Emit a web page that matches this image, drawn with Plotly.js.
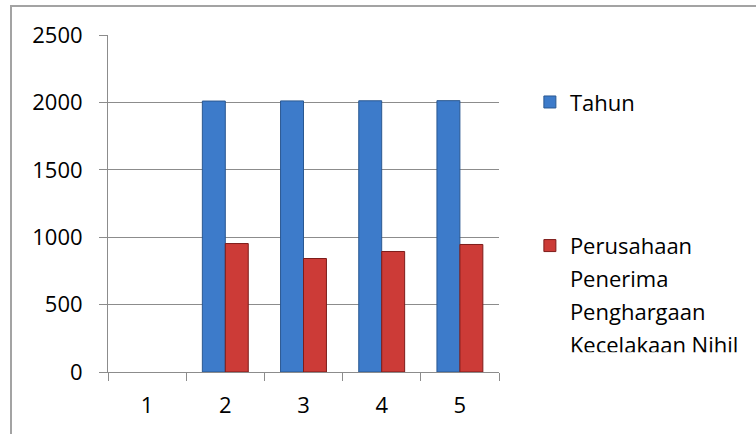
<!DOCTYPE html>
<html>
<head>
<meta charset="utf-8">
<script src="https://cdn.plot.ly/plotly-3.0.1.min.js"></script>
<style>
  html, body { margin: 0; padding: 0; background: #fff; }
  #wrap { position: relative; width: 756px; height: 434px; overflow: hidden; }
  #chart { position: absolute; left: 0; top: 0; width: 756px; height: 434px; }
  #frame { position: absolute; left: 10px; top: 5px; width: 760px; height: 460px;
           border-left: 2px solid #a3a3a3; border-top: 2px solid #a3a3a3; pointer-events: none; }
</style>
</head>
<body>
<div id="wrap">
  <div id="chart"></div>
  <div id="frame"></div>
</div>
<script>
const categories = ['1', '2', '3', '4', '5'];
const tahunValues = [null, 2010, 2011, 2012, 2013];
const perusahaanValues = [null, 953, 842, 894, 946];
const seriesNames = ['Tahun', 'Perusahaan<br>Penerima<br>Penghargaan<br>Kecelakaan Nihil'];
const yTicks = [0, 500, 1000, 1500, 2000, 2500];

const FONT = 'Open Sans, Lato, sans-serif';
const GRID = '#8c8c8c';

const traces = [
  {
    type: 'bar', x: categories, y: tahunValues, name: seriesNames[0],
    legendgroup: 'a',
    marker: { color: '#3d7bca', line: { color: '#2a5891', width: 1 } },
    hoverinfo: 'x+y'
  },
  {
    type: 'bar', x: categories, y: perusahaanValues, name: seriesNames[1],
    legendgroup: 'b',
    marker: { color: '#cc3b37', line: { color: '#7d1c1a', width: 1 } },
    hoverinfo: 'x+y'
  }
];

const layout = {
  width: 756, height: 434,
  margin: { l: 108, r: 255, t: 35, b: 62 },
  paper_bgcolor: '#ffffff', plot_bgcolor: '#ffffff',
  font: { family: FONT, size: 22, color: '#000000' },
  barmode: 'group', bargap: 0.413, bargroupgap: 0,
  showlegend: true,
  legend: {
    x: 1.079, xanchor: 'left', y: 0.863, yanchor: 'top',
    traceorder: 'grouped', tracegroupgap: 112, valign: 'top',
    font: { family: FONT, size: 22, color: '#000' },
    bgcolor: 'rgba(0,0,0,0)'
  },
  xaxis: {
    type: 'category', categoryorder: 'array', categoryarray: categories,
    showline: true, linecolor: GRID, linewidth: 1,
    ticks: 'outside', tickson: 'boundaries', ticklen: 8, tickcolor: GRID, tickwidth: 1,
    ticklabelstandoff: 14,
    showgrid: false, zeroline: false,
    tickfont: { family: FONT, size: 22, color: '#000' }
  },
  yaxis: {
    range: [0, 2500], tickvals: yTicks, ticktext: yTicks.map(String),
    showline: true, linecolor: GRID, linewidth: 1,
    ticks: 'outside', ticklen: 8, tickcolor: GRID, tickwidth: 1,
    ticklabelstandoff: 12,
    showgrid: true, gridcolor: GRID, gridwidth: 1.3,
    zeroline: false,
    tickfont: { family: FONT, size: 22, color: '#000' }
  }
};

Plotly.newPlot('chart', traces, layout, { displayModeBar: false }).then(function (gd) {
  // widen the line spacing of the multi-line legend label to match the reference (~33px)
  const ratio = 33 / (22 * 1.3);
  gd.querySelectorAll('.legend text.legendtext tspan.line').forEach(function (t) {
    const dy = t.getAttribute('dy');
    if (dy && parseFloat(dy) !== 0) {
      const unit = dy.replace(/[-0-9.]/g, '') || '';
      t.setAttribute('dy', (parseFloat(dy) * ratio) + unit);
    }
  });
});
</script>
</body>
</html>
